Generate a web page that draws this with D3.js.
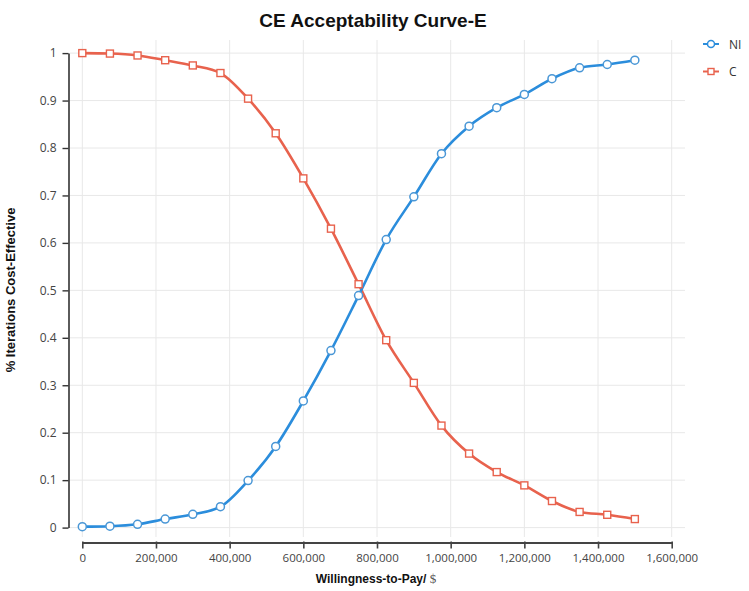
<!DOCTYPE html>
<html>
<head>
<meta charset="utf-8">
<script src="https://cdn.jsdelivr.net/npm/d3@7"></script>
<style>
  html, body { margin: 0; padding: 0; background: #fff; }
  svg { display: block; }
</style>
</head>
<body>
<svg id="chart" width="749" height="591"></svg>
<script>
const wtp = [0, 75000, 150000, 225000, 300000, 375000, 450000, 525000, 600000, 675000, 750000,
             825000, 900000, 975000, 1050000, 1125000, 1200000, 1275000, 1350000, 1425000, 1500000];
const niValues = [0.002, 0.003, 0.007, 0.018, 0.028, 0.044, 0.099, 0.171, 0.267, 0.373, 0.489,
                  0.607, 0.697, 0.788, 0.846, 0.885, 0.913, 0.946, 0.969, 0.976, 0.985];
const cValues = [1.0, 0.999, 0.995, 0.985, 0.974, 0.958, 0.904, 0.831, 0.736, 0.630, 0.513,
                 0.395, 0.305, 0.215, 0.156, 0.117, 0.089, 0.056, 0.033, 0.027, 0.018];
const xTicks = [0, 200000, 400000, 600000, 800000, 1000000, 1200000, 1400000, 1600000];
const yTicks = [0, 0.1, 0.2, 0.3, 0.4, 0.5, 0.6, 0.7, 0.8, 0.9, 1];
const seriesNames = ["NI", "C"];
const seriesColors = ["#2b8ddc", "#e8624d"];

const svg = d3.select("#chart");
const x = d3.scaleLinear().domain([0, 1600000]).range([82.3, 671.7]);
const y = d3.scaleLinear().domain([0, 1]).range([527.6, 53.1]);
const font = "'Open Sans', 'Noto Sans', sans-serif";

// grid
const grid = svg.append("g");
grid.selectAll("line.v").data(xTicks).enter().append("line")
  .attr("x1", d => x(d)).attr("x2", d => x(d))
  .attr("y1", 40).attr("y2", 537)
  .attr("stroke", "#e8e8e8").attr("stroke-width", 1);
grid.selectAll("line.h").data(yTicks).enter().append("line")
  .attr("x1", 70).attr("x2", 685)
  .attr("y1", d => y(d)).attr("y2", d => y(d))
  .attr("stroke", "#e8e8e8").attr("stroke-width", 1);

// y axis
const yAxis = svg.append("g").attr("transform", "translate(68.5,0)")
  .call(d3.axisLeft(y).tickValues(yTicks).tickFormat(d => d3.format("~g")(d)).tickSize(6).tickSizeOuter(0).tickPadding(6));
yAxis.select(".domain").attr("stroke", "#333").attr("stroke-width", 1.6);
yAxis.selectAll(".tick line").attr("stroke", "#333").attr("stroke-width", 1.4);
yAxis.selectAll(".tick text").attr("fill", "#444").style("font-family", font).style("font-size", "12px");

// x axis
const xAxis = svg.append("g").attr("transform", "translate(0,542.5)")
  .call(d3.axisBottom(x).tickValues(xTicks).tickFormat(d3.format(",")).tickSize(6).tickSizeOuter(0).tickPadding(5));
xAxis.select(".domain").attr("stroke", "#444").attr("stroke-width", 2);
xAxis.selectAll(".tick line").attr("stroke", "#444").attr("stroke-width", 1.6).attr("y1", -1);
xAxis.selectAll(".tick text").attr("fill", "#444").style("font-family", font).style("font-size", "11.5px");

// titles
svg.append("text").attr("x", 373).attr("y", 27).attr("text-anchor", "middle")
  .style("font-family", "'Liberation Sans', Arial, sans-serif").style("font-weight", "bold").style("font-size", "19px")
  .attr("fill", "#111").text("CE Acceptability Curve-E");

const xt = svg.append("text").attr("x", 376).attr("y", 583).attr("text-anchor", "middle")
  .style("font-family", "'Liberation Sans', Arial, sans-serif").style("font-size", "12px").attr("fill", "#111");
xt.append("tspan").style("font-weight", "bold").text("Willingness-to-Pay/ ");
xt.append("tspan").style("font-family", "'Liberation Serif', 'DejaVu Serif', serif").style("font-size", "13px").attr("fill", "#555").text("$");

svg.append("text").attr("transform", "translate(15,290) rotate(-90)").attr("text-anchor", "middle")
  .style("font-family", "'Liberation Sans', Arial, sans-serif").style("font-weight", "bold").style("font-size", "13px")
  .attr("fill", "#111").text("% Iterations Cost-Effective");

// lines
const line = d3.line().x(d => x(d[0])).y(d => y(d[1])).curve(d3.curveMonotoneX);
const niData = wtp.map((w, i) => [w, niValues[i]]);
const cData = wtp.map((w, i) => [w, cValues[i]]);

svg.append("path").datum(cData).attr("d", line).attr("fill", "none")
  .attr("stroke", seriesColors[1]).attr("stroke-width", 2.6);
svg.append("path").datum(niData).attr("d", line).attr("fill", "none")
  .attr("stroke", seriesColors[0]).attr("stroke-width", 2.6);

svg.append("g").selectAll("rect").data(cData).enter().append("rect")
  .attr("x", d => x(d[0]) - 3.5).attr("y", d => y(d[1]) - 3.5)
  .attr("width", 7).attr("height", 7)
  .attr("fill", "#fff").attr("stroke", seriesColors[1]).attr("stroke-width", 1.4);
svg.append("g").selectAll("circle").data(niData).enter().append("circle")
  .attr("cx", d => x(d[0])).attr("cy", d => y(d[1])).attr("r", 4)
  .attr("fill", "#fff").attr("stroke", "#4a97d6").attr("stroke-width", 1.5);

// legend
const legend = svg.append("g");
const ly = [44, 71.5];
seriesNames.forEach((name, i) => {
  const g = legend.append("g").attr("transform", `translate(0,${ly[i]})`);
  g.append("line").attr("x1", 703).attr("x2", 719).attr("y1", 0).attr("y2", 0)
    .attr("stroke", seriesColors[i]).attr("stroke-width", 2);
  if (i === 0) {
    g.append("circle").attr("cx", 711).attr("cy", 0).attr("r", 3.5)
      .attr("fill", "#fff").attr("stroke", seriesColors[i]).attr("stroke-width", 1.5);
  } else {
    g.append("rect").attr("x", 708).attr("y", -3).attr("width", 6).attr("height", 6)
      .attr("fill", "#fff").attr("stroke", seriesColors[i]).attr("stroke-width", 1.4);
  }
  g.append("text").attr("x", 729).attr("y", 4.5)
    .style("font-family", font).style("font-size", "12px").attr("fill", "#333").text(name);
});
</script>
</body>
</html>
